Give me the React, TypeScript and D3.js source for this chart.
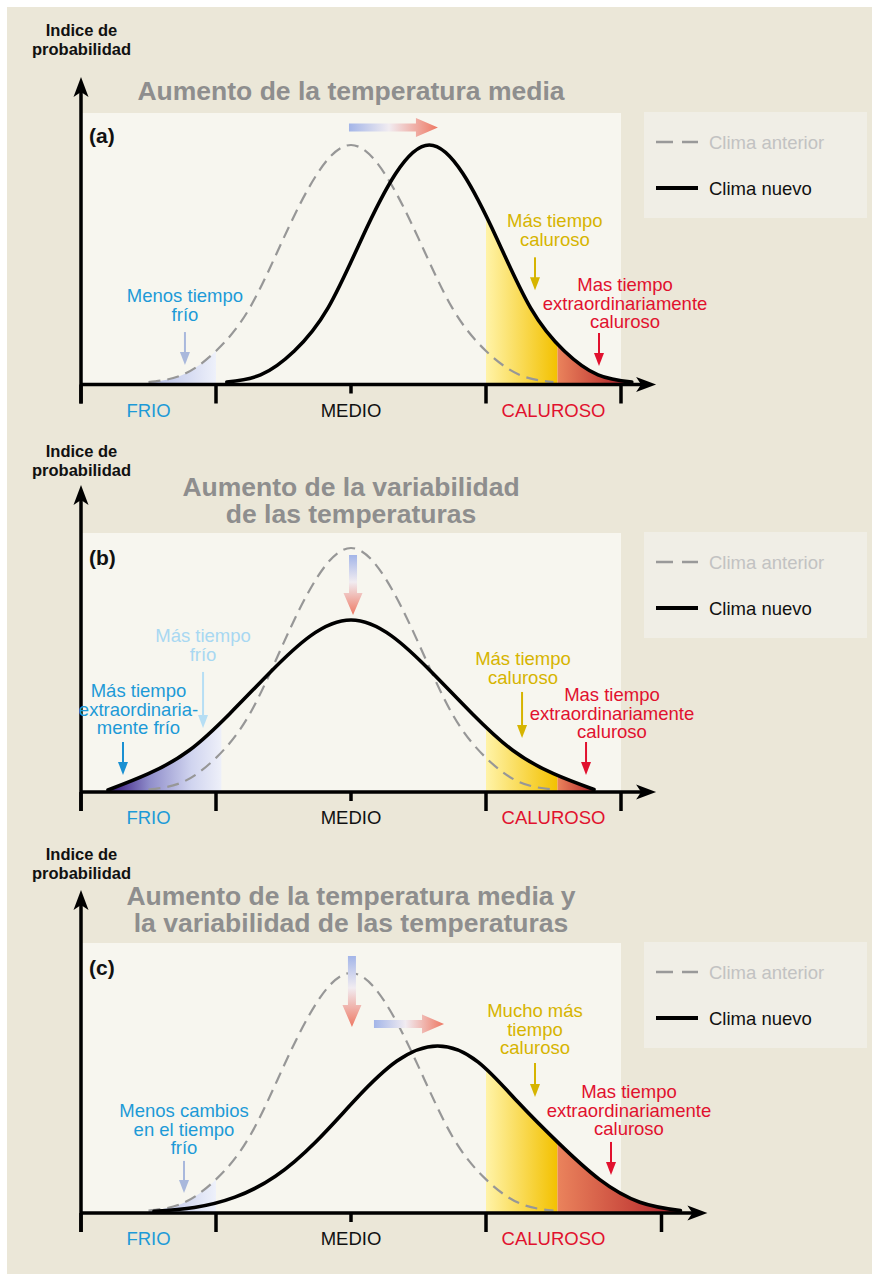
import React from "react";
import * as d3 from "d3";

const FONT = "'Liberation Sans', Arial, Helvetica, sans-serif";

// temperature axis: 0 = left end, 1 = end of FRIO, 2 = mean, 3 = start of CALUROSO
const zoneLabels = ["FRIO", "MEDIO", "CALUROSO"];
const zoneCenters = [0.5, 2.0, 3.5];
const legendLabels = ["Clima anterior", "Clima nuevo"];

const titles = [
  ["Aumento de la temperatura media"],
  ["Aumento de la variabilidad", "de las temperaturas"],
  ["Aumento de la temperatura media y", "la variabilidad de las temperaturas"],
];
const tags = ["(a)", "(b)", "(c)"];

// old climate (dashed), same in the three panels
const oldTemp = [0.5, 0.75, 1, 1.25, 1.5, 1.75, 2, 2.25, 2.5, 2.75, 3, 3.25, 3.5];
const oldProb = [0.01, 0.04, 0.14, 0.32, 0.61, 0.88, 1, 0.88, 0.61, 0.32, 0.14, 0.04, 0.01];

// new climate (solid)
const newTempA = [1.08, 1.33, 1.58, 1.83, 2.08, 2.33, 2.58, 2.83, 3.08, 3.33, 3.58, 3.83, 4.08];
const newProbA = [0.01, 0.04, 0.14, 0.32, 0.61, 0.88, 1, 0.88, 0.61, 0.32, 0.14, 0.04, 0.01];

const newTempB = [0.2, 0.5, 0.8, 1.1, 1.4, 1.7, 2.0, 2.3, 2.6, 2.9, 3.2, 3.5, 3.8];
const newProbB = [0.008, 0.075, 0.17, 0.32, 0.49, 0.64, 0.705, 0.64, 0.49, 0.32, 0.17, 0.075, 0.01];

const newTempC = [0.54, 0.84, 1.14, 1.44, 1.74, 2.04, 2.34, 2.64, 2.94, 3.24, 3.54, 3.84, 4.14, 4.44];
const newProbC = [0.007, 0.023, 0.066, 0.153, 0.297, 0.477, 0.633, 0.696, 0.63, 0.46, 0.29, 0.14, 0.045, 0.01];

const newTemps = [newTempA, newTempB, newTempC];
const newProbs = [newProbA, newProbB, newProbC];

// shaded bands on the temperature axis
const coldBand = [[0.5, 1.0], [0.15, 1.04], [0.5, 1.0]];
const coldCurve = ["old", "new", "old"];
const hotBand = [3.0, 3.53];
const veryHotBand = [3.53, 4.7];

const BLUE = "#1d9ad7";
const PALE = "#a8d8f2";
const GREYBLUE = "#a9b8dc";
const GOLD = "#d6b400";
const RED = "#e1112e";

// annotations (t = temperature, p = probability index)
const notes = [
  [
    { lines: ["Menos tiempo", "frío"], t: 0.77, p: 0.344, color: BLUE, arrow: [0.77, 0.219, 0.081], arrowColor: GREYBLUE },
    { lines: ["Más tiempo", "caluroso"], t: 3.51, p: 0.658, color: GOLD, arrow: [3.363, 0.531, 0.394], arrowColor: GOLD },
    { lines: ["Mas tiempo", "extraordinariamente", "caluroso"], t: 4.03, p: 0.39, color: RED, arrow: [3.837, 0.215, 0.077], arrowColor: RED },
  ],
  [
    { lines: ["Más tiempo", "frío"], t: 0.904, p: 0.615, color: PALE, arrow: [0.904, 0.492, 0.262], arrowColor: "#b6def4" },
    { lines: ["Más tiempo", "extraordinaria-", "mente frío"], t: 0.426, p: 0.389, color: BLUE, arrow: [0.311, 0.205, 0.07], arrowColor: "#1a90d2" },
    { lines: ["Más tiempo", "caluroso"], t: 3.274, p: 0.52, color: GOLD, arrow: [3.267, 0.41, 0.221], arrowColor: GOLD },
    { lines: ["Mas tiempo", "extraordinariamente", "caluroso"], t: 3.933, p: 0.373, color: RED, arrow: [3.741, 0.205, 0.07], arrowColor: RED },
  ],
  [
    { lines: ["Menos cambios", "en el tiempo", "frío"], t: 0.763, p: 0.4, color: BLUE, arrow: [0.763, 0.217, 0.083], arrowColor: GREYBLUE },
    { lines: ["Mucho más", "tiempo", "caluroso"], t: 3.363, p: 0.817, color: GOLD, arrow: [3.363, 0.625, 0.483], arrowColor: GOLD },
    { lines: ["Mas tiempo", "extraordinariamente", "caluroso"], t: 4.059, p: 0.479, color: RED, arrow: [3.926, 0.296, 0.158], arrowColor: RED },
  ],
];

// shift arrows: [t1, p1, t2, p2]
const shifts = [
  [[1.985, 1.073, 2.644, 1.073]],
  [[2.015, 0.971, 2.015, 0.725]],
  [[2.007, 1.071, 2.007, 0.775], [2.17, 0.7875, 2.689, 0.7875]],
];

const layout = [
  { base: 384.5, h: 239.5, box: 113, tip: 77, idx: 36, title: 100, titleGap: 27, tag: 143, lastTick: 4, axisEnd: 4.26 },
  { base: 792, h: 244, box: 533, tip: 485, idx: 457, title: 495.5, titleGap: 27.5, tag: 565, lastTick: 4, axisEnd: 4.26 },
  { base: 1213, h: 240, box: 943, tip: 890, idx: 860, title: 905, titleGap: 27, tag: 975, lastTick: 4.3, axisEnd: 4.64 },
];

function Panel({ i }: { i: number }) {
  const L = layout[i];
  const x = d3.scaleLinear().domain([0, 4]).range([81, 621]);
  const y = d3.scaleLinear().domain([0, 1]).range([L.base, L.base - L.h]);

  const oldPts = oldTemp.map((t, k) => [t, oldProb[k]] as [number, number]);
  const newPts = newTemps[i].map((t, k) => [t, newProbs[i][k]] as [number, number]);

  const curve = d3.curveNatural;
  const line = d3.line<[number, number]>().x((d) => x(d[0])).y((d) => Math.min(y(d[1]), y(0))).curve(curve);
  const area = d3
    .area<[number, number]>()
    .x((d) => x(d[0]))
    .y0(y(0))
    .y1((d) => y(d[1]))
    .curve(curve);

  const id = (s: string) => `p${i}-${s}`;
  const clip = (band: number[], name: string) => (
    <clipPath id={id(name)}>
      <rect x={x(band[0])} y={L.box - 40} width={x(band[1]) - x(band[0])} height={L.base - L.box + 40} />
    </clipPath>
  );

  const ticks = [0, 1, 2, 3, L.lastTick];
  const baseY = y(0);
  const axisTip = x(L.axisEnd);

  const coldColors =
    i === 1
      ? [
          [0, "#2b0a5c"],
          [0.15, "#4b3290"],
          [0.4, "#8f8dca"],
          [0.75, "#d0d4ef"],
          [1, "#eef0f9"],
        ]
      : [
          [0, "#b3bce6"],
          [1, "#eef1fa"],
        ];

  return (
    <g>
      <defs>
        {clip(coldBand[i], "cold")}
        {clip(hotBand, "hot")}
        {clip(veryHotBand, "vhot")}
        <linearGradient id={id("gcold")} gradientUnits="userSpaceOnUse" x1={x(coldBand[i][0])} x2={x(coldBand[i][1])} y1={0} y2={0}>
          {coldColors.map(([o, c]) => (
            <stop key={String(o)} offset={o as number} stopColor={c as string} />
          ))}
        </linearGradient>
        <linearGradient id={id("ghot")} gradientUnits="userSpaceOnUse" x1={x(hotBand[0])} x2={x(hotBand[1])} y1={0} y2={0}>
          <stop offset={0} stopColor="#fff3a8" />
          <stop offset={1} stopColor="#f3c100" />
        </linearGradient>
        <linearGradient id={id("gvhot")} gradientUnits="userSpaceOnUse" x1={x(veryHotBand[0])} x2={x(i === 2 ? 4.55 : i === 1 ? 3.85 : 4.1)} y1={0} y2={0}>
          <stop offset={0} stopColor="#ea835c" />
          <stop offset={0.55} stopColor="#c8473c" />
          <stop offset={1} stopColor="#9a1228" />
        </linearGradient>
        {shifts[i].map((s, k) => (
          <linearGradient key={k} id={id("shift" + k)} gradientUnits="userSpaceOnUse" x1={x(s[0])} y1={y(s[1])} x2={x(s[2])} y2={y(s[3])}>
            <stop offset={0} stopColor="#a3b5e8" />
            <stop offset={0.45} stopColor="#f1ecf1" />
            <stop offset={1} stopColor="#ee7863" />
          </linearGradient>
        ))}
      </defs>

      {/* light plot box */}
      <rect x={x(0)} y={L.box} width={x(4) - x(0)} height={baseY - L.box} fill="#f7f6ef" />

      {/* legend */}
      <rect x={644} y={L.box - 1} width={223} height={106} fill="#f0eee6" />
      <line x1={656} x2={698} y1={L.box + 29} y2={L.box + 29} stroke="#999" strokeWidth={2.5} strokeDasharray="17 9" />
      <text x={709} y={L.box + 35.5} fontSize={18.5} fill="#c2c2c2">{legendLabels[0]}</text>
      <line x1={656} x2={698} y1={L.box + 75} y2={L.box + 75} stroke="#000" strokeWidth={4} />
      <text x={709} y={L.box + 81.5} fontSize={18.5} fill="#111">{legendLabels[1]}</text>

      {/* shading */}
      <path d={area(coldCurve[i] === "old" ? oldPts : newPts) ?? ""} fill={`url(#${id("gcold")})`} clipPath={`url(#${id("cold")})`} />
      <path d={area(newPts) ?? ""} fill={`url(#${id("ghot")})`} clipPath={`url(#${id("hot")})`} />
      <path d={area(newPts) ?? ""} fill={`url(#${id("gvhot")})`} clipPath={`url(#${id("vhot")})`} />

      {/* curves */}
      <path d={line(oldPts) ?? ""} fill="none" stroke="#979797" strokeWidth={2.2} strokeDasharray="12 7" />
      <path d={line(newPts) ?? ""} fill="none" stroke="#000" strokeWidth={3.6} strokeLinecap="round" />

      {/* axes */}
      <line x1={x(0)} x2={x(0)} y1={baseY + 19} y2={L.tip + 12} stroke="#000" strokeWidth={3.5} />
      <path d={`M${x(0)},${L.tip} L${x(0) + 7.5},${L.tip + 20} L${x(0)},${L.tip + 15} L${x(0) - 7.5},${L.tip + 20} Z`} fill="#000" />
      <line x1={x(0)} x2={axisTip - 12} y1={baseY} y2={baseY} stroke="#000" strokeWidth={3.5} />
      <path d={`M${axisTip},${baseY} L${axisTip - 20},${baseY - 7.5} L${axisTip - 15},${baseY} L${axisTip - 20},${baseY + 7.5} Z`} fill="#000" />
      {ticks.map((t, k) => (
        <line key={k} x1={x(t)} x2={x(t)} y1={baseY} y2={baseY + (t === 2 ? 9 : 19)} stroke="#000" strokeWidth={3.5} />
      ))}
      {zoneLabels.map((z, k) => (
        <text key={z} x={x(zoneCenters[k])} y={baseY + 32} fontSize={18.5} textAnchor="middle" fill={k === 0 ? BLUE : k === 1 ? "#111" : RED}>
          {z}
        </text>
      ))}

      {/* axis title */}
      <text x={81.5} y={L.idx} fontSize={16.5} fontWeight="bold" textAnchor="middle" fill="#111">
        <tspan x={81.5}>Indice de</tspan>
        <tspan x={81.5} dy={18.5}>probabilidad</tspan>
      </text>

      {/* panel title */}
      {titles[i].map((t, k) => (
        <text key={k} x={351} y={L.title + k * L.titleGap} fontSize={26.5} fontWeight="bold" textAnchor="middle" fill="#8e8e8e">
          {t}
        </text>
      ))}
      <text x={89} y={L.tag} fontSize={21} fontWeight="bold" fill="#111">
        {tags[i]}
      </text>

      {/* shift arrows */}
      {shifts[i].map((s, k) => {
        const x1 = x(s[0]), y1 = y(s[1]), x2 = x(s[2]), y2 = y(s[3]);
        const len = Math.hypot(x2 - x1, y2 - y1);
        const ux = (x2 - x1) / len, uy = (y2 - y1) / len;
        const nx = -uy, ny = ux;
        const hb = len - 22;
        const P = (a: number, b: number) => `${x1 + ux * a + nx * b},${y1 + uy * a + ny * b}`;
        const pts = [P(0, -4), P(hb, -4), P(hb, -9.5), P(len, 0), P(hb, 9.5), P(hb, 4), P(0, 4)].join(" ");
        return <polygon key={k} points={pts} fill={`url(#${id("shift" + k)})`} />;
      })}

      {/* annotations */}
      {notes[i].map((n, k) => {
        const ax = x(n.arrow[0]), ay1 = y(n.arrow[1]), ay2 = y(n.arrow[2]);
        return (
          <g key={k}>
            <text y={y(n.p)} fontSize={18.5} textAnchor="middle" fill={n.color}>
              {n.lines.map((l, j) => (
                <tspan key={j} x={x(n.t)} dy={j === 0 ? 0 : 18.7}>
                  {l}
                </tspan>
              ))}
            </text>
            <line x1={ax} x2={ax} y1={ay1} y2={ay2 - 10} stroke={n.arrowColor} strokeWidth={2} />
            <polygon points={`${ax - 5},${ay2 - 13} ${ax + 5},${ay2 - 13} ${ax},${ay2}`} fill={n.arrowColor} />
          </g>
        );
      })}
    </g>
  );
}

export default function App() {
  return (
    <svg width={872} height={1274} style={{ position: "absolute", left: 0, top: 0 }} fontFamily={FONT}>
      <rect width={872} height={1274} fill="#fff" />
      <rect x={7} y={7} width={865} height={1267} fill="#ebe7d8" />
      {layout.map((_, i) => (
        <Panel key={i} i={i} />
      ))}
    </svg>
  );
}
